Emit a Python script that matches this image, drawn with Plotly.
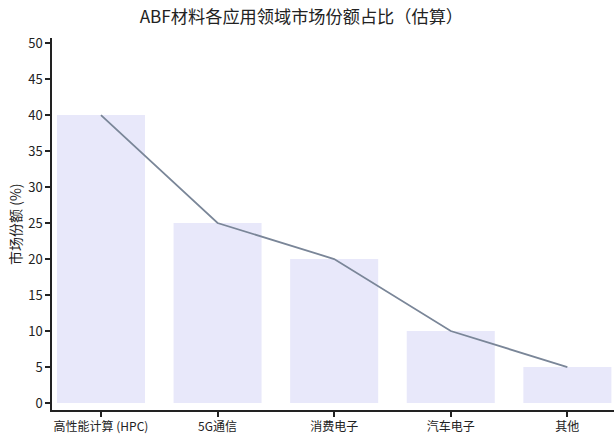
import plotly.graph_objects as go

categories = ["高性能计算 (HPC)", "5G通信", "消费电子", "汽车电子", "其他"]
shares = [40, 25, 20, 10, 5]
y_ticks = [0, 5, 10, 15, 20, 25, 30, 35, 40, 45, 50]

font_family = "Noto Sans CJK SC, Noto Sans, sans-serif"

fig = go.Figure()
fig.add_trace(go.Bar(
    x=list(range(len(categories))), y=shares,
    marker=dict(color="#E8E8FA", line=dict(width=0)),
    width=0.755, showlegend=False, hoverinfo="skip",
))
fig.add_trace(go.Scatter(
    x=list(range(len(categories))), y=shares, mode="lines",
    line=dict(color="#7A8698", width=1.8), showlegend=False,
))

fig.update_layout(
    width=615, height=440,
    margin=dict(l=52, r=1, t=38, b=30),
    paper_bgcolor="white", plot_bgcolor="white",
    font=dict(family=font_family, size=12, color="#222"),
    title=dict(text="ABF材料各应用领域市场份额占比（估算）", x=0.49, y=0.961,
               xanchor="center", yanchor="middle",
               font=dict(size=17.2, color="#222", family=font_family)),
    annotations=[dict(
        text="市场份额 (%)", textangle=-90, xref="paper", yref="paper",
        x=-0.066, y=0.5, xanchor="center", yanchor="middle", showarrow=False,
        font=dict(size=14, color="#222", family=font_family),
    )],
)
fig.update_xaxes(
    range=[-0.42, 4.4], tickmode="array",
    tickvals=list(range(len(categories))), ticktext=categories,
    showline=True, linecolor="#222", linewidth=1.5,
    ticks="outside", ticklen=5, tickcolor="#222", tickwidth=1.5,
    showgrid=False, zeroline=False, tickfont=dict(size=12), automargin=False,
)
fig.update_yaxes(
    range=[-0.97, 50.7], tickmode="array", tickvals=y_ticks,
    showline=True, linecolor="#222", linewidth=1.5,
    ticks="outside", ticklen=5, tickcolor="#222", tickwidth=1.5,
    showgrid=False, zeroline=False, tickfont=dict(size=13), automargin=False,
)

fig.write_html("out.html", config={"displayModeBar": False},
               post_script="document.body.style.margin='0px';")
